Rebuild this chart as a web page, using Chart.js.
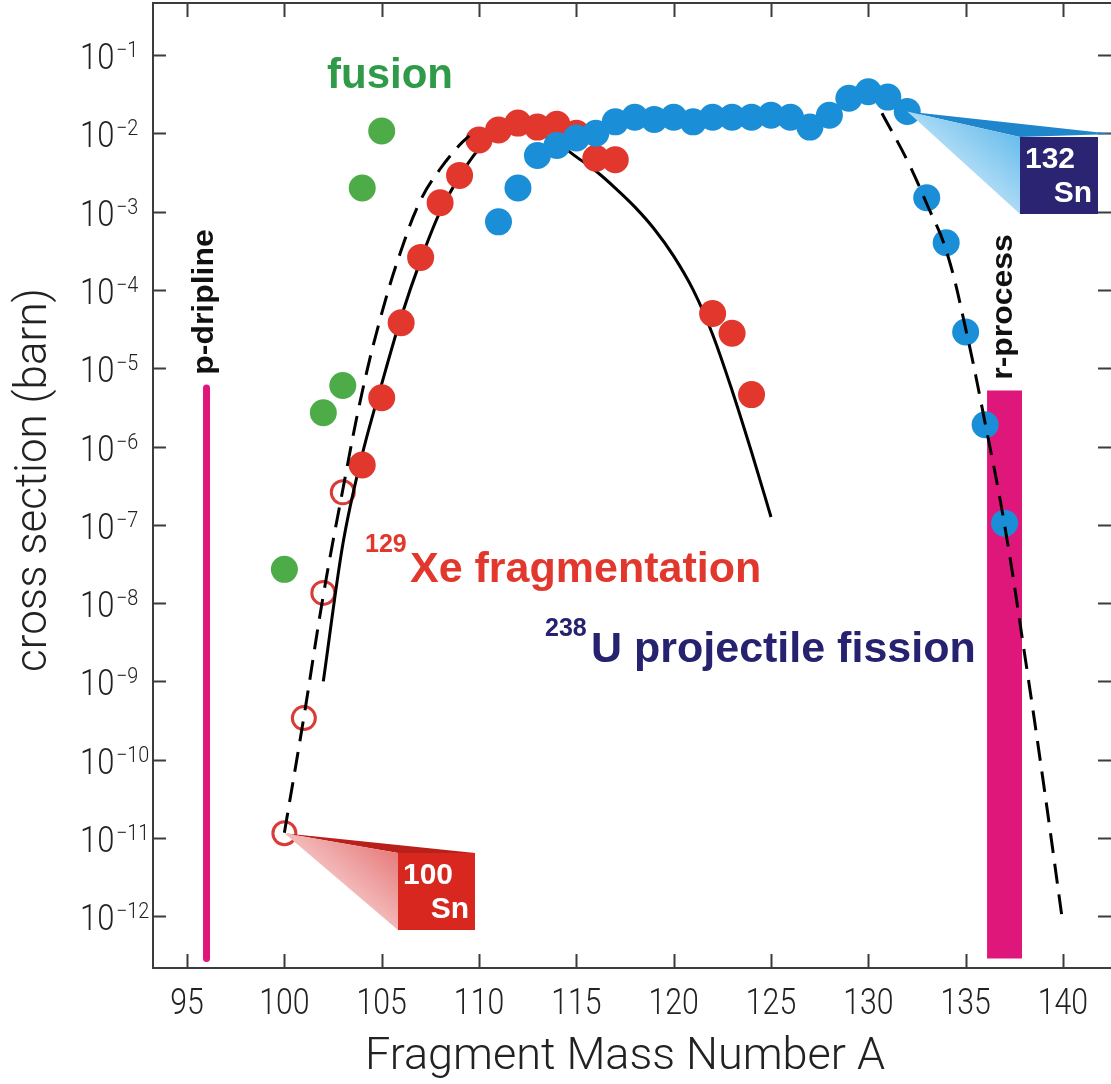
<!DOCTYPE html>
<html>
<head>
<meta charset="utf-8">
<script src="https://cdn.jsdelivr.net/npm/chart.js@4.4.0/dist/chart.umd.min.js"></script>
<style>
  html, body { margin: 0; padding: 0; background: #fff; overflow: hidden; }
  canvas { display: block; }
</style>
</head>
<body>
<canvas id="chart" width="1116" height="1084"></canvas>
<script>
// axis ticks
const xTicks = [95, 100, 105, 110, 115, 120, 125, 130, 135, 140];
const yTickExp = [-1, -2, -3, -4, -5, -6, -7, -8, -9, -10, -11, -12];

// fusion
const fusionA = [100, 102, 103, 104, 105];
const fusionSigma = [2.7e-8, 2.7e-6, 6.0e-6, 2.0e-3, 1.07e-2];

// 129Xe fragmentation: open symbols (100Sn side) and filled
const xeOpenA = [100, 101, 102, 103];
const xeOpenSigma = [1.15e-11, 3.4e-10, 1.35e-8, 2.6e-7];
const xeA = [104, 105, 106, 107, 108, 109, 110, 111, 112, 113, 114, 115, 116, 117, 122, 123, 124];
const xeSigma = [5.8e-7, 4.2e-6, 3.8e-5, 2.6e-4, 1.3e-3, 2.9e-3, 8.2e-3, 1.1e-2, 1.35e-2, 1.2e-2, 1.3e-2, 1.0e-2, 4.8e-3, 4.6e-3, 5.0e-5, 2.8e-5, 4.6e-6];

// 238U projectile fission
const uA = [111, 112, 113, 114, 115, 116, 117, 118, 119, 120, 121, 122, 123, 124, 125, 126, 127, 128, 129, 130, 131, 132, 133, 134, 135, 136, 137];
const uSigma = [7.4e-4, 2.0e-3, 5.2e-3, 7.0e-3, 8.7e-3, 1.0e-2, 1.4e-2, 1.6e-2, 1.5e-2, 1.6e-2, 1.4e-2, 1.6e-2, 1.6e-2, 1.6e-2, 1.7e-2, 1.6e-2, 1.2e-2, 1.7e-2, 2.8e-2, 3.4e-2, 2.9e-2, 1.9e-2, 1.5e-3, 4.0e-4, 2.9e-5, 1.9e-6, 1.05e-7];

// model curves
const xeFitA = [102, 103, 104, 105, 106, 107, 108, 109, 110, 111, 112, 113, 114, 115, 116, 117, 118, 119, 120, 121, 122, 123, 124, 125];
const xeFitSigma = [1.0e-9, 5.6e-8, 7.9e-7, 6.3e-6, 4.5e-5, 2.4e-4, 1.0e-3, 2.8e-3, 6.3e-3, 9.5e-3, 1.08e-2, 1.0e-2, 7.6e-3, 5.0e-3, 3.3e-3, 2.0e-3, 1.15e-3, 6.0e-4, 2.7e-4, 1.0e-4, 2.7e-5, 5.2e-6, 8.5e-7, 1.26e-7];
const fusFitA = [100, 101, 102, 103, 104, 105, 106, 107, 108, 109, 109.5];
const fusFitSigma = [1.17e-11, 3.5e-10, 1.26e-8, 2.8e-7, 5.0e-6, 5.0e-5, 3.2e-4, 1.4e-3, 3.5e-3, 7.1e-3, 9.3e-3];
const uFitA = [130.7, 132, 133, 134, 135, 136, 137, 138, 139, 140];
const uFitSigma = [1.8e-2, 4.5e-3, 1.26e-3, 3.2e-4, 3.2e-5, 2.0e-6, 1.0e-7, 2.5e-9, 5.0e-11, 7.9e-13];

// p-dripline and r-process bands
const pDriplineA = [96, 96];
const pDriplineSigma = [5.6e-6, 2.9e-13];
const rProcessA = [136.1, 137.9];
const rProcessTop = 5.2e-6;
const rProcessBottom = 2.9e-13;

const pts = (xs, ys) => xs.map((v, i) => ({ x: v, y: ys[i] }));

const RED = '#e1372d';
const BLUE = '#1b8ed8';
const GREEN = '#4dab48';
const MAGENTA = '#e0177b';

function txt(ctx, s, px, py, font, color, align, sx) {
  ctx.save();
  ctx.translate(px, py);
  ctx.scale(sx || 1, 1);
  ctx.font = font;
  ctx.fillStyle = color;
  ctx.textAlign = align || 'left';
  ctx.textBaseline = 'alphabetic';
  ctx.fillText(s, 0, 0);
  ctx.restore();
}

function vtxt(ctx, s, px, py, font, color, sx) {
  ctx.save();
  ctx.translate(px, py);
  ctx.rotate(-Math.PI / 2);
  ctx.scale(sx || 1, 1);
  ctx.font = font;
  ctx.fillStyle = color;
  ctx.textAlign = 'center';
  ctx.textBaseline = 'alphabetic';
  ctx.fillText(s, 0, 0);
  ctx.restore();
}

function callout(ctx, ax, ay, box, dark, light1, light2, fill, top, bottom) {
  // dark sliver along the top
  ctx.fillStyle = dark;
  ctx.beginPath();
  ctx.moveTo(ax, ay);
  ctx.lineTo(box.tipX, box.tipY);
  ctx.lineTo(box.l, box.t);
  ctx.closePath();
  ctx.fill();
  // light gradient face
  const g = ctx.createLinearGradient(box.l, box.t, ax + (box.l - ax) * 0.4, box.b);
  g.addColorStop(0, light1);
  g.addColorStop(1, light2);
  ctx.fillStyle = g;
  ctx.beginPath();
  ctx.moveTo(ax, ay);
  ctx.lineTo(box.l, box.t);
  ctx.lineTo(box.l, box.b);
  ctx.closePath();
  ctx.fill();
  // box
  ctx.fillStyle = fill;
  ctx.fillRect(box.l, box.t, box.r - box.l, box.b - box.t);
  txt(ctx, top, box.l + 5, box.t + 31, 'bold 30px "Liberation Sans", Arial', '#fff', 'left');
  txt(ctx, bottom, box.r - 6, box.b - 12, 'bold 30px "Liberation Sans", Arial', '#fff', 'right');
}

const decor = {
  id: 'decor',
  afterDatasetsDraw(chart) {
    const { ctx, chartArea: a, scales: { x, y } } = chart;
    ctx.save();

    // frame
    ctx.strokeStyle = '#3c3c3c';
    ctx.lineWidth = 2;
    ctx.strokeRect(a.left, a.top, a.right - a.left, a.bottom - a.top);

    // inward ticks
    ctx.beginPath();
    xTicks.forEach(v => {
      const px = Math.round(x.getPixelForValue(v)) + 0.5;
      ctx.moveTo(px, a.bottom); ctx.lineTo(px, a.bottom - 14);
      ctx.moveTo(px, a.top); ctx.lineTo(px, a.top + 14);
    });
    yTickExp.forEach(e => {
      const py = Math.round(y.getPixelForValue(Math.pow(10, e))) + 0.5;
      ctx.moveTo(a.left, py); ctx.lineTo(a.left + 13, py);
      ctx.moveTo(a.right, py); ctx.lineTo(a.right - 15, py);
    });
    ctx.stroke();

    // tick labels
    const tickFont = '300 36px Roboto, "DejaVu Sans"';
    xTicks.forEach(v => {
      txt(ctx, String(v), x.getPixelForValue(v), 1014, tickFont, '#222', 'center', 0.84);
    });
    yTickExp.forEach(e => {
      const py = y.getPixelForValue(Math.pow(10, e));
      txt(ctx, '10', 80, py + 14, tickFont, '#222', 'left', 0.86);
      txt(ctx, '\u2212' + Math.abs(e), 116, py + 2, '300 22px Roboto, "DejaVu Sans"', '#222', 'left', 0.9);
    });

    // axis titles
    txt(ctx, 'Fragment Mass Number A', 625, 1069, '300 45px Roboto, "DejaVu Sans"', '#222', 'center');
    vtxt(ctx, 'cross section (barn)', 46, 480, '300 44px Roboto, "DejaVu Sans"', '#222');

    // series labels
    const B = '"Liberation Sans", Arial';
    txt(ctx, 'fusion', 327, 88, 'bold 42px ' + B, '#2f9a48', 'left');
    txt(ctx, '129', 365, 552, 'bold 25px ' + B, RED, 'left');
    txt(ctx, 'Xe fragmentation', 410, 582, 'bold 43px ' + B, RED, 'left');
    txt(ctx, '238', 545, 636, 'bold 25px ' + B, '#27226f', 'left');
    txt(ctx, 'U projectile fission', 591, 662, 'bold 43px ' + B, '#27226f', 'left');
    vtxt(ctx, 'p-dripline', 213, 302, 'bold 29px ' + B, '#111', 1.1);
    vtxt(ctx, 'r-process', 1012, 307, 'bold 29px ' + B, '#111', 1.1);

    // callouts
    callout(ctx, x.getPixelForValue(xeOpenA[0]), y.getPixelForValue(xeOpenSigma[0]),
      { l: 398, t: 853, r: 475, b: 930, tipX: 475, tipY: 853 },
      '#b9201a', '#e77b7b', '#fbe6e6', '#d8271f', '100', 'Sn');
    callout(ctx, x.getPixelForValue(uA[21]), y.getPixelForValue(uSigma[21]),
      { l: 1020, t: 137, r: 1098, b: 214, tipX: 1113, tipY: 134 },
      '#1f86cc', '#68bdec', '#dff1fc', '#2a2472', '132', 'Sn');

    ctx.restore();
  }
};

const dash = [20, 11];

new Chart(document.getElementById('chart'), {
  type: 'scatter',
  data: {
    datasets: [
      { data: pts(fusFitA, fusFitSigma), showLine: true, borderColor: '#000', borderWidth: 3,
        borderDash: dash, pointRadius: 0, tension: 0.4, order: 0 },
      { data: pts(uFitA, uFitSigma), showLine: true, borderColor: '#000', borderWidth: 3,
        borderDash: dash, pointRadius: 0, tension: 0.4, order: 0 },
      { data: pts(uA, uSigma), backgroundColor: BLUE, borderWidth: 0, pointRadius: 13.5, order: 1 },
      { data: pts(xeA, xeSigma), backgroundColor: RED, borderWidth: 0, pointRadius: 13.5, order: 2 },
      { data: pts(xeFitA, xeFitSigma), showLine: true, borderColor: '#000', borderWidth: 3,
        pointRadius: 0, cubicInterpolationMode: 'monotone', order: 3 },
      { data: pts(xeOpenA, xeOpenSigma), backgroundColor: 'rgba(0,0,0,0)', borderColor: '#d93b36',
        borderWidth: 3, pointRadius: 11.5, order: 4 },
      { data: pts(fusionA, fusionSigma), backgroundColor: GREEN, borderWidth: 0, pointRadius: 13.5, order: 5 },
      { data: pts(pDriplineA, pDriplineSigma), showLine: true, borderColor: MAGENTA, borderWidth: 7,
        borderCapStyle: 'round', pointRadius: 0, order: 6 },
      { data: [{ x: rProcessA[0], y: rProcessTop }, { x: rProcessA[1], y: rProcessTop }], showLine: true,
        borderWidth: 0, pointRadius: 0, backgroundColor: MAGENTA, fill: { value: rProcessBottom }, order: 6 }
    ]
  },
  options: {
    responsive: false,
    animation: false,
    devicePixelRatio: 1,
    layout: { autoPadding: false, padding: { left: 153, right: 3, top: 3, bottom: 116 } },
    scales: {
      x: { type: 'linear', min: 93.25, max: 142.57, display: false },
      y: { type: 'logarithmic', min: Math.pow(10, -12.66), max: Math.pow(10, -0.336), display: false }
    },
    plugins: { legend: { display: false }, tooltip: { enabled: false } },
    events: []
  },
  plugins: [decor]
});
</script>
</body>
</html>
